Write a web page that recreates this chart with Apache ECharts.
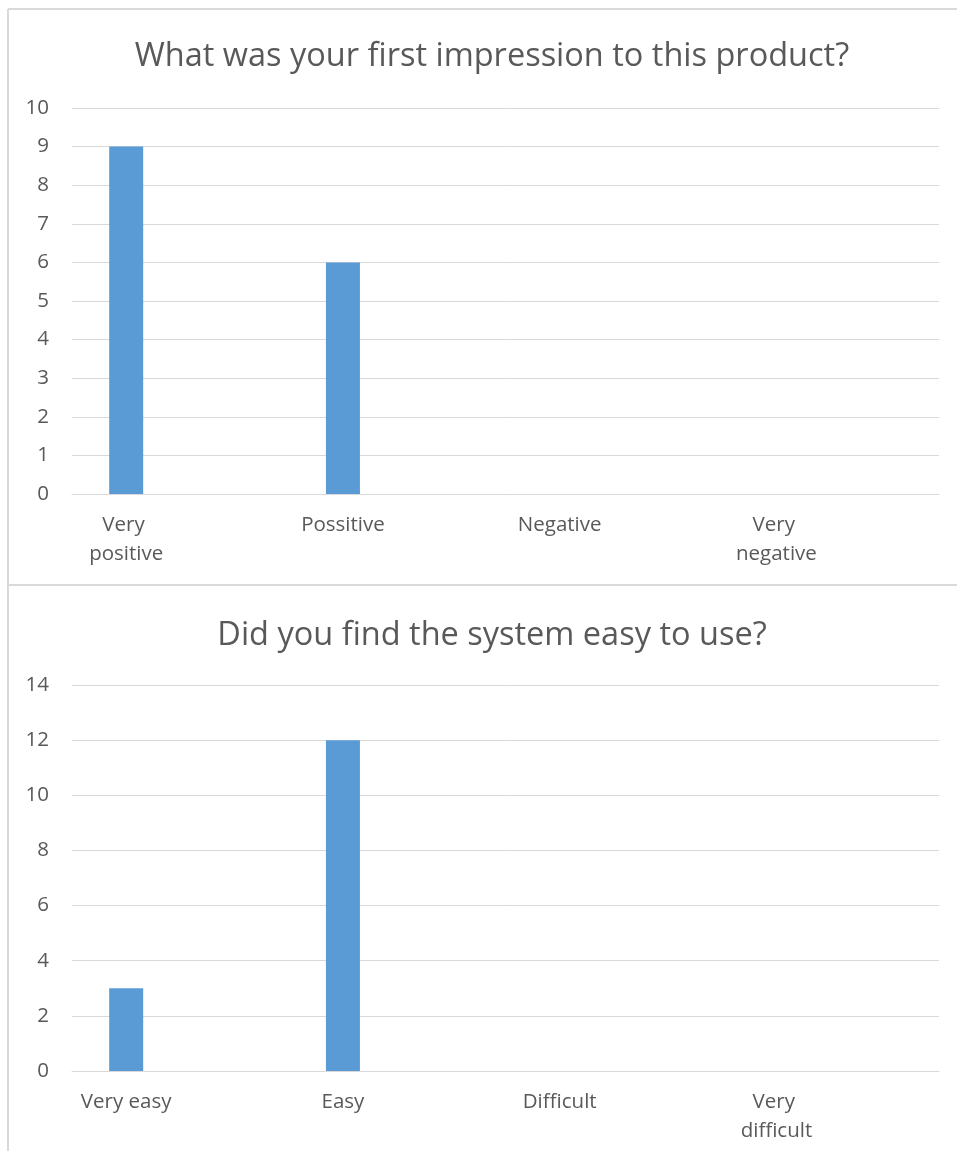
<!DOCTYPE html>
<html>
<head>
<meta charset="utf-8">
<script src="https://cdn.jsdelivr.net/npm/echarts@6/dist/echarts.min.js"></script>
<style>
  html, body { margin: 0; padding: 0; background: #fff; }
  #chart { width: 957px; height: 1151px; }
</style>
</head>
<body>
<div id="chart"></div>
<script>
// Survey answers, one small array per question
const impressionTitle = 'What was your first impression to this product?';
const impressionCategories = ['Very positive', 'Possitive', 'Negative', 'Very negative'];
const impressionCounts = [9, 6, 0, 0];

const easeTitle = 'Did you find the system easy to use?';
const easeCategories = ['Very easy', 'Easy', 'Difficult', 'Very difficult'];
const easeCounts = [3, 12, 0, 0];

const FONT = 'Open Sans';
const TEXT = '#595959';
const GRID_LINE = '#d9d9d9';
const BAR = '#5b9bd5';
const LABEL_SIZE = 20.5;
const TITLE_SIZE = 32.5;

const chart = echarts.init(document.getElementById('chart'), null, { renderer: 'canvas' });

function xAxisFor(gridIndex, cats) {
  return {
    gridIndex,
    type: 'value',
    min: -0.25,
    max: 3.75,
    axisLine: { show: true, lineStyle: { color: GRID_LINE, width: 1 } },
    axisTick: { show: false },
    splitLine: { show: false },
    axisLabel: {
      customValues: cats.map((_, i) => i),
      formatter: v => cats[Math.round(v)],
      color: TEXT,
      fontFamily: FONT,
      fontSize: LABEL_SIZE,
      lineHeight: 29,
      width: 104,
      overflow: 'break',
      margin: 17
    }
  };
}

function yAxisFor(gridIndex, max, interval) {
  return {
    gridIndex,
    type: 'value',
    min: 0,
    max,
    interval,
    axisLine: { show: false },
    axisTick: { show: false },
    splitLine: { show: true, lineStyle: { color: GRID_LINE, width: 1 } },
    axisLabel: { color: TEXT, fontFamily: FONT, fontSize: LABEL_SIZE, margin: 23, padding: [2, 0, 0, 0] }
  };
}

function barsFor(index, counts) {
  return {
    type: 'bar',
    xAxisIndex: index,
    yAxisIndex: index,
    data: counts.map((v, i) => [i, v]),
    barWidth: 34,
    itemStyle: { color: BAR },
    silent: true
  };
}

const border = { stroke: GRID_LINE, lineWidth: 2 };

chart.setOption({
  animation: false,
  backgroundColor: '#fff',
  title: [
    { text: impressionTitle, left: 487, top: 35, textAlign: 'center',
      textStyle: { color: TEXT, fontFamily: FONT, fontSize: TITLE_SIZE, fontWeight: 'normal' } },
    { text: easeTitle, left: 487, top: 614, textAlign: 'center',
      textStyle: { color: TEXT, fontFamily: FONT, fontSize: TITLE_SIZE, fontWeight: 'normal' } }
  ],
  grid: [
    { left: 72, right: 18, top: 108, height: 386 },
    { left: 72, right: 18, top: 685, height: 386 }
  ],
  xAxis: [xAxisFor(0, impressionCategories), xAxisFor(1, easeCategories)],
  yAxis: [yAxisFor(0, 10, 1), yAxisFor(1, 14, 2)],
  series: [barsFor(0, impressionCounts), barsFor(1, easeCounts)],
  graphic: [
    { type: 'line', shape: { x1: 8, y1: 9, x2: 957, y2: 9 }, style: border, silent: true },
    { type: 'line', shape: { x1: 8, y1: 9, x2: 8, y2: 1151 }, style: border, silent: true },
    { type: 'line', shape: { x1: 8, y1: 585, x2: 957, y2: 585 }, style: border, silent: true }
  ]
});
</script>
</body>
</html>
